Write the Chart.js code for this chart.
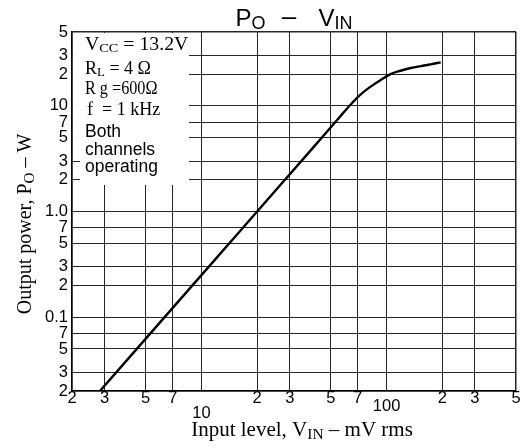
<!DOCTYPE html>
<html>
<head>
<meta charset="utf-8">
<script src="https://cdn.jsdelivr.net/npm/chart.js@4/dist/chart.umd.min.js"></script>
<style>
  html, body { margin: 0; padding: 0; background: #fff; }
  #wrap { width: 523px; height: 448px; position: relative; }
</style>
</head>
<body>
<div id="wrap"><canvas id="c" width="523" height="448"></canvas></div>
<script>
// ---- Data ----
const inputLevel_mV = [2.83, 10, 20, 40, 56, 64, 72, 82, 93, 105, 119, 135, 153, 173, 196];
const outputPower_W = [0.02, 0.25, 1.0, 4.0, 7.9, 10.3, 12.7, 15.2, 17.6, 20.0, 21.5, 22.8, 23.8, 24.7, 25.8];

const xTickValues = [2, 3, 5, 7, 10, 20, 30, 50, 70, 100, 200, 300, 500];
const xTickLabels = ['2', '3', '5', '7', '10', '2', '3', '5', '7', '100', '2', '3', '5'];
const yTickValues = [0.02, 0.03, 0.05, 0.07, 0.1, 0.2, 0.3, 0.5, 0.7, 1, 2, 3, 5, 7, 10, 20, 30, 50];
const yTickLabels = ['2', '3', '5', '7', '0.1', '2', '3', '5', '7', '1.0', '2', '3', '5', '7', '10', '2', '3', '5'];

const SANS = "'Liberation Sans', Arial, sans-serif";
const SERIF = "'Liberation Serif', 'Times New Roman', serif";

// draw a run of text segments: [text, fontSize, family, baselineShift]
function drawRuns(ctx, runs, x, y, align, sx) {
  sx = sx || 1;
  let total = 0;
  runs.forEach(r => { ctx.font = r[1] + 'px ' + r[2]; total += ctx.measureText(r[0]).width; });
  ctx.save();
  ctx.translate(x, y);
  ctx.scale(sx, 1);
  let cx = align === 'center' ? -total / 2 : 0;
  ctx.textAlign = 'left';
  runs.forEach(r => {
    ctx.font = r[1] + 'px ' + r[2];
    ctx.fillText(r[0], cx, (r[3] || 0));
    cx += ctx.measureText(r[0]).width;
  });
  ctx.restore();
}

const annotations = {
  id: 'annotations',
  beforeDatasetsDraw(chart) {
    const ctx = chart.ctx;
    const a = chart.chartArea;
    ctx.save();
    // white box behind conditions text
    ctx.fillStyle = '#fff';
    ctx.fillRect(a.left + 1, a.top + 1, 116, 112);
    ctx.fillRect(a.left + 8, a.top + 1, 109, 152);
    ctx.fillStyle = '#000';
    ctx.textBaseline = 'alphabetic';
    const lx = a.left + 13;
    drawRuns(ctx, [['V', 18, SERIF], ['CC', 13, SERIF, 2], [' = 13.2V', 18, SERIF]], lx, a.top + 18, 'left', 1.1);
    drawRuns(ctx, [['R', 18, SERIF], ['L', 13, SERIF, 2], [' = 4 \u03A9', 18, SERIF]], lx, a.top + 41.5);
    drawRuns(ctx, [['R g =600\u03A9', 18, SERIF]], lx, a.top + 61.5, 'left', 0.9);
    drawRuns(ctx, [['f  = 1 kHz', 18, SERIF]], lx + 2, a.top + 83);
    drawRuns(ctx, [['Both', 17.5, SANS]], lx, a.top + 105);
    drawRuns(ctx, [['channels', 17.5, SANS]], lx, a.top + 123);
    drawRuns(ctx, [['operating', 17.5, SANS]], lx, a.top + 140);
    ctx.restore();
  },
  afterDraw(chart) {
    const ctx = chart.ctx;
    const a = chart.chartArea;
    ctx.save();
    ctx.fillStyle = '#000';
    ctx.textBaseline = 'alphabetic';
    // title
    const cx = (a.left + a.right) / 2;
    drawRuns(ctx, [['P', 24, SANS], ['O', 18, SANS, 3], [' ', 58, SANS], ['\u2013', 26, SANS, -1], [' ', 80, SANS], ['V', 24, SANS], ['IN', 18, SANS, 3]], cx, 26, 'center');
    // x axis title
    drawRuns(ctx, [['Input level, V', 21, SERIF], ['IN', 15.5, SERIF, 3], [' \u2013 mV rms', 21, SERIF]], cx + 8, 435.5, 'center');
    // y axis title
    ctx.translate(31, 224);
    ctx.rotate(-Math.PI / 2);
    drawRuns(ctx, [['Output power, P', 20, SERIF], ['O', 15, SERIF, 3], [' \u2013 W', 20, SERIF]], 0, 0, 'center');
    ctx.restore();
  }
};

const gridColor = 'rgba(0,0,0,0.85)';

new Chart(document.getElementById('c'), {
  type: 'line',
  data: {
    datasets: [{
      data: inputLevel_mV.map((v, i) => ({ x: v, y: outputPower_W[i] })),
      borderColor: '#000',
      borderWidth: 2.4,
      pointRadius: 0,
      fill: false,
      cubicInterpolationMode: 'monotone'
    }]
  },
  options: {
    responsive: false,
    animation: false,
    layout: { padding: { top: 32, right: 7, left: 0, bottom: 0 } },
    plugins: { legend: { display: false }, tooltip: { enabled: false }, title: { display: false } },
    scales: {
      x: {
        type: 'logarithmic',
        min: 2, max: 500,
        afterBuildTicks: s => { s.ticks = xTickValues.map(v => ({ value: v })); },
        afterFit: s => { s.height = 57; },
        grid: {
          color: gridColor,
          lineWidth: c => (c.tick && (c.tick.value === 2 || c.tick.value === 500)) ? 1.5 : 1,
          drawTicks: false
        },
        border: { display: true, color: '#000', width: 1.5 },
        ticks: {
          autoSkip: false, maxRotation: 0, minRotation: 0, padding: 0,
          color: '#000',
          font: c => {
            const v = c.tick ? c.tick.value : 0;
            let lh = 0.95;
            if (v === 10) lh = 2.69;
            else if (v === 100) lh = 1.85;
            return { family: SANS, size: 16.5, lineHeight: lh };
          },
          callback: (v, i) => xTickLabels[i]
        }
      },
      y: {
        type: 'logarithmic',
        min: 0.02, max: 50,
        afterBuildTicks: s => { s.ticks = yTickValues.map(v => ({ value: v })); },
        afterFit: s => { s.width = 72; },
        grid: {
          color: gridColor,
          lineWidth: c => (c.tick && (c.tick.value === 0.02 || c.tick.value === 50)) ? 1.5 : 1,
          drawTicks: false
        },
        border: { display: true, color: '#000', width: 1.5 },
        ticks: {
          autoSkip: false, padding: 4, color: '#000',
          font: { family: SANS, size: 16.5 },
          callback: (v, i) => yTickLabels[i]
        }
      }
    }
  },
  plugins: [annotations]
});
</script>
</body>
</html>
